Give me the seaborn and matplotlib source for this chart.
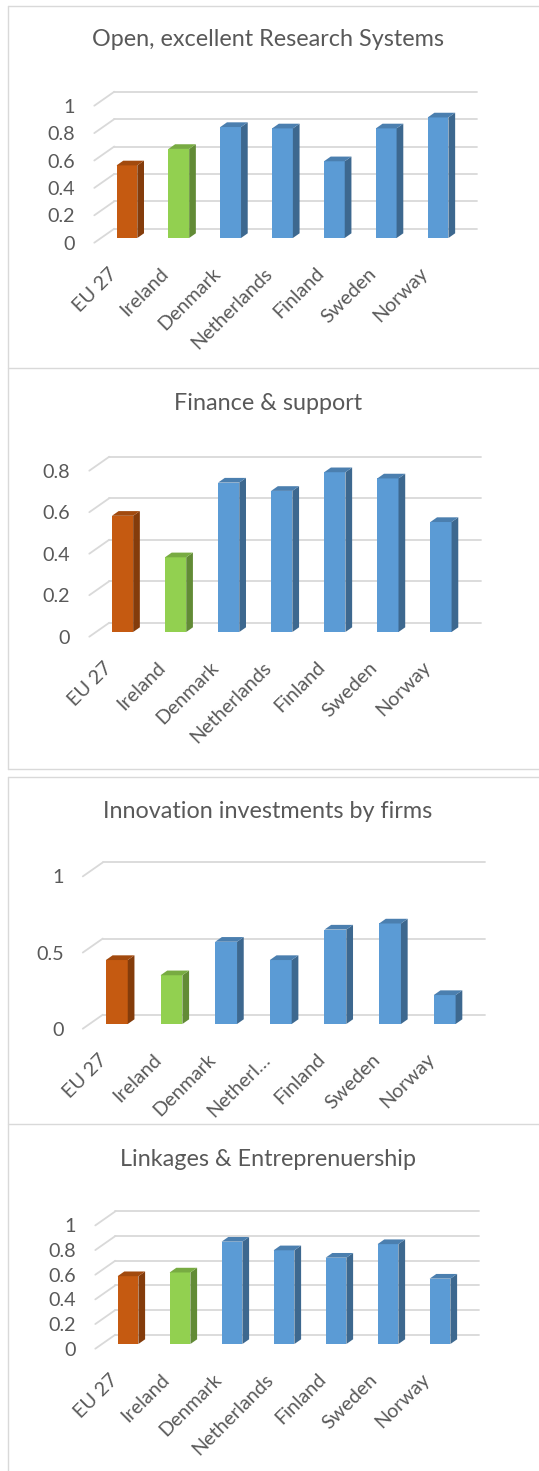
import numpy as np
import pandas as pd
import matplotlib
matplotlib.use("Agg")
import matplotlib.pyplot as plt
from matplotlib.lines import Line2D
from matplotlib.patches import Polygon
import matplotlib.colors as mcolors
import seaborn as sns

# ---------------- data ----------------
countries = ["EU 27", "Ireland", "Denmark", "Netherlands", "Finland", "Sweden", "Norway"]
labels_p3 = ["EU 27", "Ireland", "Denmark", "Netherl\u2026", "Finland", "Sweden", "Norway"]
titles = ["Open, excellent Research Systems", "Finance & support",
          "Innovation investments by firms", "Linkages & Entreprenuership"]
research = [0.53, 0.65, 0.81, 0.80, 0.56, 0.80, 0.88]
finance = [0.56, 0.36, 0.72, 0.68, 0.77, 0.74, 0.53]
investments = [0.42, 0.32, 0.54, 0.42, 0.62, 0.66, 0.19]
linkages = [0.55, 0.58, 0.83, 0.76, 0.70, 0.81, 0.53]
yticks_research = [0, 0.2, 0.4, 0.6, 0.8, 1]
yticks_finance = [0, 0.2, 0.4, 0.6, 0.8]
yticks_invest = [0, 0.5, 1]
yticks_link = [0, 0.2, 0.4, 0.6, 0.8, 1]

bar_colors = {"EU 27": "#C55A11", "Ireland": "#92D050"}
blue = "#5B9BD5"

# ---------------- style ----------------
sns.set_style("white")
plt.rcParams["font.family"] = ["Lato", "DejaVu Sans"]
TXT = "#595959"
GRID = "#D9D9D9"

W, H = 539, 1471
DPI = 100
fig = plt.figure(figsize=(W / DPI, H / DPI), dpi=DPI)
fig.patch.set_facecolor("white")

# panel layout in pixels: title_y, base_y, px per unit, ytop, left, right
layout = [
    (40, 238, 137.0, 1.0, 101, 464),
    (403, 632, 207.5, 0.8, 96, 467.5),
    (812, 1024, 152.3, 1.0, 89.5, 472),
    (1160, 1344, 123.3, 1.0, 102, 466),
]
panels = [
    (titles[0], research, yticks_research, countries),
    (titles[1], finance, yticks_finance, countries),
    (titles[2], investments, yticks_invest, labels_p3),
    (titles[3], linkages, yticks_link, countries),
]

BAR_DX, BAR_DY = 6.7, 4.7      # bar depth (px)
BACK_DX, BACK_DY = 13.3, 9.3   # back wall offset from bar plane (px)


def shade(c, f):
    r, g, b = mcolors.to_rgb(c)
    return (r * f, g * f, b * f)


for (title, vals, yt, labs), (ty, base, ppu, ytop, L, R) in zip(panels, layout):
    ppx = (R - L) / 7.0
    ax = fig.add_axes([L / W, (H - base) / H, (R - L) / W, ppu * ytop / H])
    df = pd.DataFrame({"country": countries, "value": vals})
    pal = {c: bar_colors.get(c, blue) for c in countries}
    sns.barplot(data=df, x="country", y="value", hue="country", palette=pal,
                width=0.4, saturation=1, legend=False, ax=ax, zorder=3)
    ax.set_xlim(-0.5, 6.5)
    ax.set_ylim(0, ytop)
    ax.axis("off")

    ddx, ddy = BAR_DX / ppx, BAR_DY / ppu
    bdx, bdy = BACK_DX / ppx, BACK_DY / ppu
    fdx, fdy = BAR_DX / ppx, BAR_DY / ppu

    # walls: back gridlines + left-side diagonals
    for v in yt:
        ax.add_line(Line2D([-0.5 + bdx, 6.5 + bdx], [v + bdy, v + bdy], color=GRID,
                           lw=1.3, clip_on=False, zorder=1))
        ax.add_line(Line2D([-0.5 - fdx, -0.5 + bdx], [v - fdy, v + bdy], color=GRID,
                           lw=1.3, clip_on=False, zorder=1))

    # 3D faces for the bars
    for p in ax.patches[:]:
        x0, w, h = p.get_x(), p.get_width(), p.get_height()
        fc = p.get_facecolor()
        p.set_edgecolor("none")
        side = Polygon([(x0 + w, 0), (x0 + w, h), (x0 + w + ddx, h + ddy), (x0 + w + ddx, ddy)],
                       closed=True, facecolor=shade(fc, 0.67), edgecolor="none",
                       clip_on=False, zorder=3)
        top = Polygon([(x0, h), (x0 + w, h), (x0 + w + ddx, h + ddy), (x0 + ddx, h + ddy)],
                      closed=True, facecolor=shade(fc, 0.82), edgecolor="none",
                      clip_on=False, zorder=3)
        ax.add_patch(side)
        ax.add_patch(top)

    # front plane axes carrying the tick labels
    axf = fig.add_axes([(L - BAR_DX) / W, (H - base - BAR_DY) / H, (R - L) / W, ppu * ytop / H])
    axf.patch.set_visible(False)
    for s in axf.spines.values():
        s.set_visible(False)
    axf.set_xlim(-0.5, 6.5)
    axf.set_ylim(0, ytop)
    axf.set_yticks(yt)
    axf.set_yticklabels([f"{v:g}" for v in yt])
    axf.set_xticks(np.arange(len(labs)) - 6.3 / ppx)
    axf.set_xticklabels(labs, rotation=45, ha="right", va="center", rotation_mode="anchor")
    axf.tick_params(axis="y", length=0, pad=19 * 0.72, labelsize=14.2, labelcolor=TXT)
    axf.tick_params(axis="x", length=0, pad=28 * 0.72, labelsize=14.2, labelcolor=TXT)

    fig.text(268 / W, 1 - ty / H, title, ha="center", va="center", fontsize=16.8, color=TXT)

# panel borders
def hline(y, x0=8, x1=539):
    fig.add_artist(Line2D([x0 / W, x1 / W], [1 - y / H, 1 - y / H], color=GRID, lw=1.0,
                          transform=fig.transFigure))

def vline(x, y0, y1):
    fig.add_artist(Line2D([x / W, x / W], [1 - y0 / H, 1 - y1 / H], color=GRID, lw=1.0,
                          transform=fig.transFigure))

for y in [6, 368, 769, 777, 1124]:
    hline(y)
vline(8, 6, 769)
vline(8, 777, 1471)

fig.savefig("out.png", dpi=DPI, facecolor="white")
